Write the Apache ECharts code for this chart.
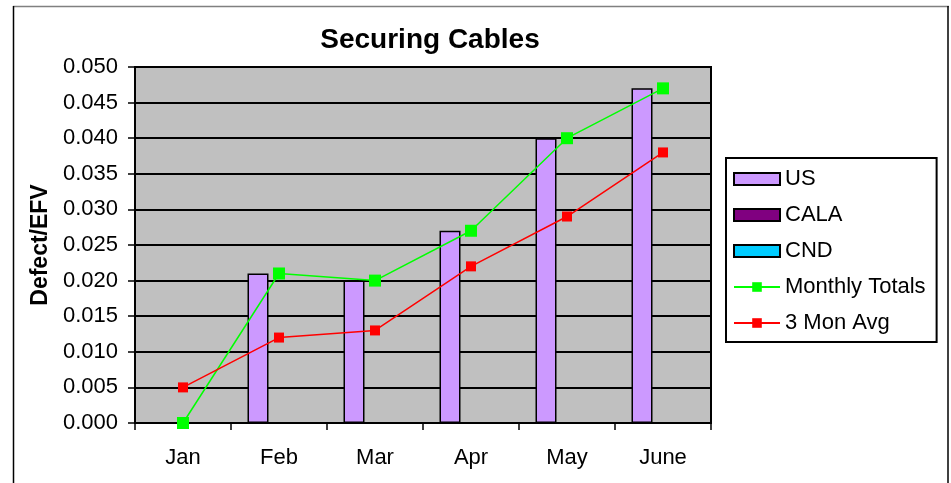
<!DOCTYPE html>
<html>
<head>
<meta charset="utf-8">
<script src="https://cdn.jsdelivr.net/npm/echarts@6/dist/echarts.min.js"></script>
<style>
html,body{margin:0;padding:0;background:#fff;}
#main{width:951px;height:483px;}
</style>
</head>
<body>
<div id="main"></div>
<script>
const categories = ['Jan', 'Feb', 'Mar', 'Apr', 'May', 'June'];
const usValues = [0, 0.021, 0.020, 0.027, 0.040, 0.047];
const calaValues = [0, 0, 0, 0, 0, 0];
const cndValues = [0, 0, 0, 0, 0, 0];
const monthlyTotals = [0.000, 0.021, 0.020, 0.027, 0.040, 0.047];
const threeMonAvg = [0.005, 0.012, 0.013, 0.022, 0.029, 0.038];

const FONT = 'Liberation Sans, Arial, sans-serif';
const chart = echarts.init(document.getElementById('main'), null, {renderer: 'canvas'});

const barStyle = (c) => ({color: c, borderColor: '#000', borderWidth: 1.5});

chart.setOption({
  animation: false,
  backgroundColor: '#fff',
  title: {
    text: 'Securing Cables',
    left: 425, top: 21, textAlign: 'center',
    textStyle: {fontFamily: FONT, fontWeight: 'bold', fontSize: 28, color: '#000'}
  },
  grid: {
    left: 135, right: 240, top: 67, bottom: 60,
    show: true, backgroundColor: '#C0C0C0', borderColor: '#000', borderWidth: 2
  },
  legend: {
    orient: 'vertical',
    left: 726, top: 158,
    padding: [9, 11, 7, 7],
    itemWidth: 46, itemHeight: 12, itemGap: 12,
    borderColor: '#000', borderWidth: 2, backgroundColor: '#fff',
    textStyle: {fontFamily: FONT, fontSize: 22, color: '#000', lineHeight: 24},
    data: [
      {name: 'US', icon: 'rect'},
      {name: 'CALA', icon: 'rect'},
      {name: 'CND', icon: 'rect'},
      'Monthly Totals',
      '3 Mon Avg'
    ]
  },
  xAxis: {
    type: 'category',
    data: categories,
    boundaryGap: true,
    axisLine: {lineStyle: {color: '#000', width: 2}},
    axisTick: {show: true, length: 7, inside: false, lineStyle: {color: '#000', width: 1.5}},
    axisLabel: {fontFamily: FONT, fontSize: 22, color: '#000', margin: 24},
    splitLine: {show: false}
  },
  yAxis: {
    type: 'value',
    min: 0, max: 0.05, interval: 0.005,
    name: 'Defect/EFV',
    nameLocation: 'middle',
    nameGap: 80,
    nameTextStyle: {fontFamily: FONT, fontWeight: 'bold', fontSize: 23, color: '#000'},
    axisLine: {show: true, lineStyle: {color: '#000', width: 2}},
    axisTick: {show: true, length: 7, inside: false, lineStyle: {color: '#000', width: 1.5}},
    axisLabel: {fontFamily: FONT, fontSize: 22, color: '#000', margin: 17,
      formatter: (v) => v.toFixed(3)},
    splitLine: {show: true, lineStyle: {color: '#000', width: 1.8}}
  },
  series: [
    {name: 'US', type: 'bar', data: usValues, barWidth: 21, barGap: '0%', itemStyle: barStyle('#CC99FF')},
    {name: 'CALA', type: 'bar', data: calaValues, barWidth: 21, barGap: '0%', itemStyle: barStyle('#800080')},
    {name: 'CND', type: 'bar', data: cndValues, barWidth: 21, barGap: '0%', itemStyle: barStyle('#00CCFF')},
    {name: 'Monthly Totals', type: 'line', data: monthlyTotals, symbol: 'rect', symbolSize: 12,
      lineStyle: {color: '#00FF00', width: 1.5}, itemStyle: {color: '#00FF00'}, z: 5},
    {name: '3 Mon Avg', type: 'line', data: threeMonAvg, symbol: 'rect', symbolSize: 10,
      lineStyle: {color: '#FF0000', width: 1.5}, itemStyle: {color: '#FF0000'}, z: 5}
  ],
  graphic: [
    {type: 'line', shape: {x1: 13, y1: 6.5, x2: 949, y2: 6.5}, style: {stroke: '#808080', lineWidth: 1.5}},
    {type: 'line', shape: {x1: 13.5, y1: 6, x2: 13.5, y2: 483}, style: {stroke: '#000', lineWidth: 1.5}},
    {type: 'line', shape: {x1: 948, y1: 6, x2: 948, y2: 483}, style: {stroke: '#000', lineWidth: 1.5}}
  ]
});
</script>
</body>
</html>
